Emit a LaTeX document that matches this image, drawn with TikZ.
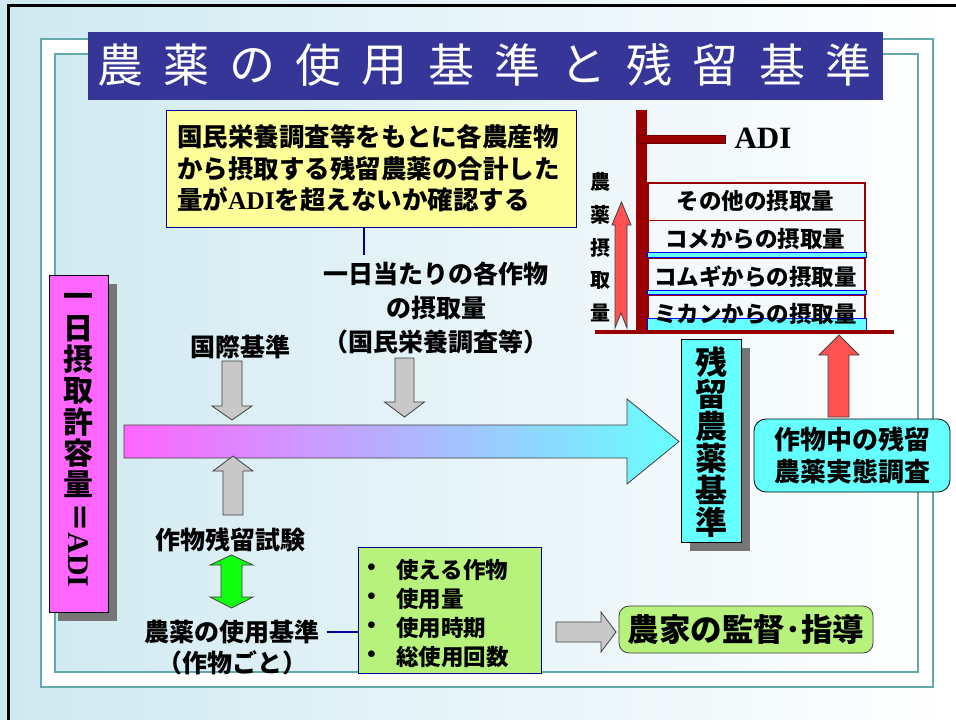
\documentclass[tikz,border=0pt]{standalone}
\usepackage{fontspec}
\setmainfont{Noto Sans CJK JP}
\newfontfamily\tm{Liberation Serif}[BoldFont={Liberation Serif Bold}]
\usetikzlibrary{shadows}

\definecolor{bgblue}{HTML}{CFE9F1}
\definecolor{frameteal}{HTML}{62A9AE}
\definecolor{titleblue}{HTML}{363699}
\definecolor{notebg}{HTML}{FFFF99}
\definecolor{navyline}{HTML}{000099}
\definecolor{greenbg}{HTML}{B6F27C}
\definecolor{pinkfill}{HTML}{FF66FF}
\definecolor{cyanfill}{HTML}{66FFFF}
\definecolor{redfill}{HTML}{FF5252}
\definecolor{darkred}{HTML}{990000}
\definecolor{arrowgrey}{HTML}{C8C8C8}
\definecolor{arrowline}{HTML}{404040}
\definecolor{greenarrow}{HTML}{11FF11}
\definecolor{shadowgray}{HTML}{767676}
\definecolor{chartfill}{HTML}{F4FAFC}

\begin{document}
\begin{tikzpicture}[x=1pt,y=-1pt]
\tikzset{every node/.style={inner sep=0pt}}
\tikzset{txt/.style={font=\bfseries\fontsize{25}{34}\selectfont}}
\tikzset{itemtxt/.style={font=\bfseries\fontsize{22.5}{29}\selectfont}}
\tikzset{charttxt/.style={font=\bfseries\fontsize{22.5}{24}\selectfont}}
\tikzset{box/.style={draw=navyline,line width=1pt}}
\tikzset{blockarrow/.style={draw=arrowline,line width=0.8pt,line join=miter}}
\tikzset{shadowed/.style={drop shadow={shadow xshift=9pt,shadow yshift=-9pt,fill=shadowgray,opacity=1}}}
\tikzset{chartbox/.style={draw=darkred,line width=1.5pt,fill=chartfill,minimum width=217,minimum height=37.5,anchor=north west}}

\useasboundingbox (0,0) rectangle (956,720);
\shade[left color=bgblue,right color=white] (0,0) rectangle (956,720);
\draw[line width=3pt] (8,730) -- (8,5) -- (970,5);
\fill[white,even odd rule] (41,39) rectangle (933,687) (55,54) rectangle (918,672);
\draw[frameteal,line width=1.2pt] (41,39) rectangle (933,687);
\draw[frameteal,line width=1.2pt] (55,54) rectangle (918,672);

\node[fill=titleblue,minimum width=795,minimum height=68] (title) at (485.5,66) {};
\foreach \ch [count=\i from 0] in {農,薬,の,使,用,基,準,と,残,留,基,準}
  \node[text=white,font=\fontsize{46}{46}\selectfont] (t\i) at (120+66.2*\i,65) {\vphantom{国}\ch};

\node[box,fill=notebg,minimum width=410,minimum height=117,text width=388,align=left,
  font=\bfseries\fontsize{25.5}{31.5}\selectfont] (note) at (371,168.5)
  {国民栄養調査等をもとに各農産物\\から摂取する残留農薬の合計した\\量が{\tm\bfseries ADI}を超えないか確認する};
\coordinate (noteend) at (364,255);
\draw[navyline,line width=2pt] (note.south -| noteend) -- (noteend);

\node[txt,align=center] (intake) at (436,308) {一日当たりの各作物\\の摂取量\\（国民栄養調査等）};
\node[txt] (intl) at (240,347) {国際基準};

\draw[blockarrow,fill=arrowgrey] (222,361) -- (242,361) -- (242,406) -- (252,406) -- (232,420) -- (212,406) -- (222,406) -- cycle;
\draw[blockarrow,fill=arrowgrey] (395,358) -- (414,358) -- (414,402) -- (424.5,402) -- (404.5,417) -- (384.5,402) -- (395,402) -- cycle;

\path[draw=arrowline,line width=0.8pt,left color=pinkfill,right color=cyanfill]
  (124,425) -- (627,425) -- (627,399) -- (679,441.5) -- (627,484) -- (627,458) -- (124,458) -- cycle;

\draw[blockarrow,fill=arrowgrey] (223,515) -- (223,471) -- (213,471) -- (233,456) -- (253,471) -- (243,471) -- (243,515) -- cycle;
\node[txt] (trial) at (230,540) {作物残留試験};
\draw[blockarrow,fill=greenarrow] (231.5,555) -- (253,565) -- (242,565) -- (242,597) -- (253,597) -- (231.5,608)
  -- (210,597) -- (221,597) -- (221,565) -- (210,565) -- cycle;

\node[txt] (std) at (232,632) {農薬の使用基準};
\node[txt] (percrop) at (232,663) {（作物ごと）};

\node[box,fill=greenbg,minimum width=183,minimum height=126] (items) at (449.5,610) {};
\draw[navyline,line width=2pt] ([xshift=7pt]std.east) -- (items.west |- std.east);
\foreach \txt [count=\i] in {使える作物,使用量,使用時期,総使用回数} {
  \node[font=\tm\fontsize{28}{28}\selectfont] (dot\i) at (371.5,541+29*\i) {•};
  \node[itemtxt,anchor=west] (it\i) at (396,541+29*\i) {\vphantom{国}\txt};
}

\draw[blockarrow,fill=arrowgrey] (556,622) -- (601,622) -- (601,612) -- (616,632) -- (601,652) -- (601,642) -- (556,642) -- cycle;
\node[draw=arrowline,line width=0.8pt,fill=greenbg,rounded corners=10pt,minimum width=254,minimum height=47,
  font=\bfseries\fontsize{31.5}{31.5}\selectfont] (farm) at (746,629.5) {農家の監督･指導};

\node[fill=pinkfill,draw=black,line width=1pt,minimum width=59,minimum height=337,shadowed] (adi) at (78.5,443.5) {};
\foreach \ch [count=\i from 0] in {一,日,摂,取,許,容,量}
  \node[font=\bfseries\fontsize{30}{30}\selectfont] (a\i) at (78.5,297+31.3*\i) {\vphantom{国}\ch};
\node[rotate=-90,font=\bfseries\fontsize{30}{30}\selectfont] (adieq) at (78.5,545) {＝{\tm\bfseries ADI}};

\node[fill=cyanfill,draw=black,line width=1pt,minimum width=60,minimum height=203,shadowed] (resstd) at (711,440.5) {};
\foreach \ch [count=\i from 0] in {残,留,農,薬,基,準}
  \node[font=\bfseries\fontsize{32}{32}\selectfont] (r\i) at (711,362+32*\i) {\vphantom{国}\ch};

\node[draw=black,line width=0.8pt,fill=cyanfill,rounded corners=12pt,minimum width=196,minimum height=73,align=center,
  font=\bfseries\fontsize{26}{32}\selectfont] (survey) at (852,455.5) {作物中の残留\\農薬実態調査};
\draw[blockarrow,fill=redfill] (828,417) -- (828,355) -- (819,355) -- (839,335) -- (859,355) -- (849,355) -- (849,417) -- cycle;

\foreach \nm [count=\i from 0] in {other,rice,wheat,orange}
  \node[chartbox] (\nm) at (647,182+37.5*\i) {};
\draw[blue,fill=cyanfill,line width=1pt] (647,252) rectangle (866,257);
\draw[blue,fill=cyanfill,line width=1pt] (647,290) rectangle (866,294.5);
\draw[blue,fill=cyanfill,line width=1pt] (647,318) rectangle (866,332);
\foreach \txt/\nm in {その他の摂取量/other,コメからの摂取量/rice,コムギからの摂取量/wheat,ミカンからの摂取量/orange}
  \node[charttxt] (l\nm) at ([xshift=-1pt]\nm.center) {\vphantom{国}\txt};
\fill[darkred] (636,110) rectangle (647,333);
\draw[darkred!70!black,fill=darkred,line width=0.6pt] (638,135) rectangle (725,143);
\node[font=\tm\bfseries\fontsize{31}{31}\selectfont] (adilabel) at (763,138) {ADI};
\draw[darkred,line width=4pt] (595,332) -- (894,332);

\foreach \ch [count=\i from 0] in {農,薬,摂,取,量}
  \node[font=\bfseries\fontsize{20}{20}\selectfont] (k\i) at (600,182+32.8*\i) {\vphantom{国}\ch};
\draw[blockarrow,fill=redfill] (615,328) -- (615,225) -- (612,225) -- (621.5,202) -- (631,225) -- (627,225) -- (627,328) -- (621,313) -- cycle;

\end{tikzpicture}
\end{document}
